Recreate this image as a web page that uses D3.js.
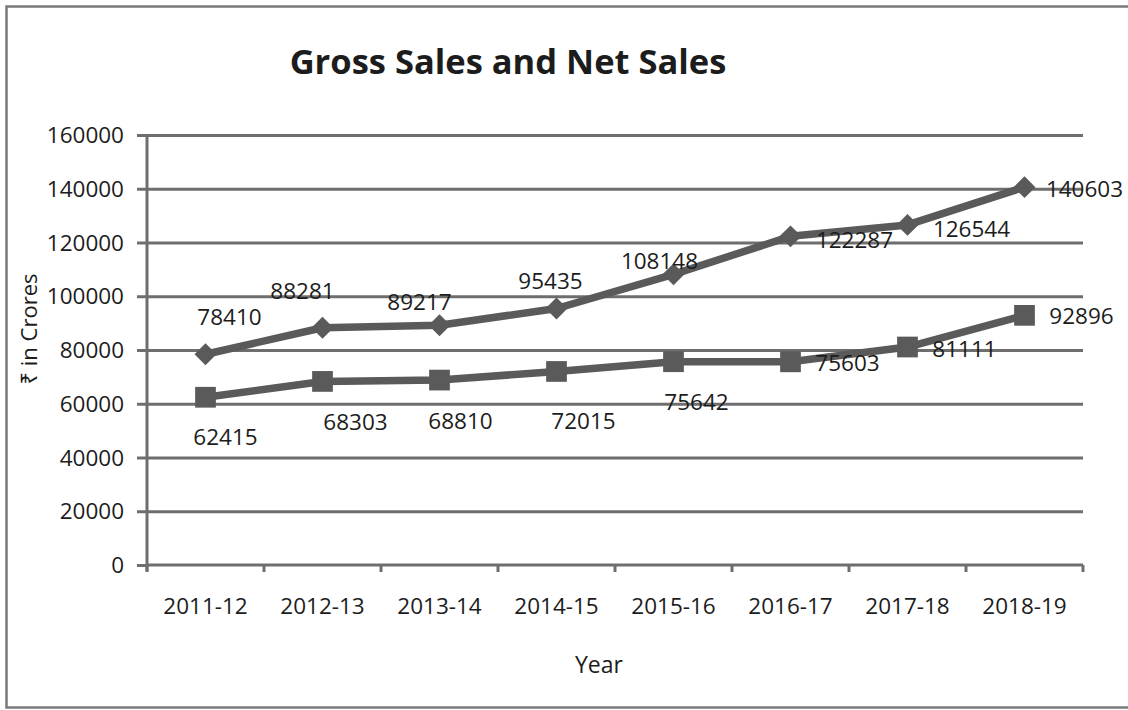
<!DOCTYPE html>
<html>
<head>
<meta charset="utf-8">
<script src="https://cdn.jsdelivr.net/npm/d3@7"></script>
<style>
  html, body { margin: 0; padding: 0; background: #fff; }
  svg { display: block; }
  text { font-family: "Open Sans", "Noto Sans", sans-serif; fill: #1c1c1c; }
</style>
</head>
<body>
<svg id="chart" width="1128" height="710"></svg>
<script>
// Fiscal years on the x axis
const years = ["2011-12", "2012-13", "2013-14", "2014-15", "2015-16", "2016-17", "2017-18", "2018-19"];
// ₹ in crores
const grossSales = [78410, 88281, 89217, 95435, 108148, 122287, 126544, 140603];
const netSales = [62415, 68303, 68810, 72015, 75642, 75603, 81111, 92896];
const yTicks = [0, 20000, 40000, 60000, 80000, 100000, 120000, 140000, 160000];

// Data label placement (offset of label centre from its marker, px)
const grossLabelDx = [24, -20, -20, -6, -14, 64, 64, 60];
const grossLabelDy = [-37, -37, -23, -28, -13, 4, 4, 2];
const netLabelDx = [20, 33, 21, 27, 23, 57, 57, 57];
const netLabelDy = [40, 40, 41, 49, 40, 1, 2, 1];

const svg = d3.select("#chart");
const W = 1128, H = 710;
const plot = { left: 147, right: 1083, top: 135, bottom: 565 };
const ink = "#5a5a5a";
const grid = "#6e6e6e";

// outer chart frame
svg.append("rect")
  .attr("x", 6.5).attr("y", 6.5)
  .attr("width", W + 10).attr("height", 701)
  .attr("fill", "#fff").attr("stroke", "#7a7a7a").attr("stroke-width", 2.5);

const x = d3.scaleBand().domain(years).range([plot.left, plot.right]).padding(0);
const y = d3.scaleLinear().domain([0, 160000]).range([plot.bottom, plot.top]);

// horizontal gridlines
const gridAxis = svg.append("g")
  .attr("transform", `translate(${plot.left},0)`)
  .call(d3.axisLeft(y).tickValues(yTicks.filter(v => v > 0)).tickSize(-(plot.right - plot.left)).tickFormat(""));
gridAxis.select(".domain").remove();
gridAxis.selectAll("line").attr("stroke", grid).attr("stroke-width", 3);

// y axis with tick labels
const yAxis = svg.append("g")
  .attr("transform", `translate(${plot.left},0)`)
  .call(d3.axisLeft(y).tickValues(yTicks).tickSize(10).tickPadding(13).tickFormat(d3.format("d")));
yAxis.select(".domain").attr("stroke", grid).attr("stroke-width", 3)
  .attr("d", `M0,${plot.top}V${plot.bottom + 6}`);
yAxis.selectAll("line").attr("stroke", grid).attr("stroke-width", 3);
yAxis.selectAll("text").style("font-size", "22.5px").attr("fill", "#1c1c1c").attr("dy", "0.34em");

// x axis: baseline, category boundary ticks, labels
const xAxis = svg.append("g")
  .attr("transform", `translate(0,${plot.bottom})`)
  .call(d3.axisBottom(x).tickSize(0).tickPadding(33));
xAxis.select(".domain").attr("stroke", grid).attr("stroke-width", 3)
  .attr("d", `M${plot.left},0H${plot.right}`);
xAxis.selectAll("text").style("font-size", "22.5px").attr("fill", "#1c1c1c");
const bounds = years.map(d => x(d)).concat([x.range()[1]]);
xAxis.selectAll(".bound").data(bounds).enter().append("line")
  .attr("class", "bound")
  .attr("x1", d => d).attr("x2", d => d)
  .attr("y1", 0).attr("y2", 7)
  .attr("stroke", grid).attr("stroke-width", 3);

const cx = d => x(d) + x.bandwidth() / 2;
const line = d3.line().x(d => cx(d.year)).y(d => y(d.value));

function series(values, symbolType, size, rotate, dxs, dys) {
  const pts = values.map((v, i) => ({ year: years[i], value: v, dx: dxs[i], dy: dys[i] }));
  const g = svg.append("g");
  g.append("path").datum(pts)
    .attr("d", line)
    .attr("fill", "none").attr("stroke", ink)
    .attr("stroke-width", 7.5).attr("stroke-linejoin", "round");
  g.selectAll("path.m").data(pts).enter().append("path")
    .attr("class", "m")
    .attr("d", d3.symbol().type(symbolType).size(size))
    .attr("transform", d => `translate(${cx(d.year)},${y(d.value)}) rotate(${rotate})`)
    .attr("fill", ink);
  g.selectAll("text").data(pts).enter().append("text")
    .attr("x", d => cx(d.year) + d.dx)
    .attr("y", d => y(d.value) + d.dy)
    .attr("text-anchor", "middle")
    .attr("dy", "0.36em")
    .style("font-size", "22.5px")
    .text(d => d.value);
}

series(grossSales, d3.symbolSquare, 240, 45, grossLabelDx, grossLabelDy);
series(netSales, d3.symbolSquare, 430, 0, netLabelDx, netLabelDy);

// titles
svg.append("text")
  .attr("x", 508).attr("y", 62).attr("dy", "0.36em")
  .attr("text-anchor", "middle")
  .style("font-size", "34.5px").style("font-weight", "bold")
  .text("Gross Sales and Net Sales");

svg.append("text")
  .attr("x", 599).attr("y", 665).attr("dy", "0.36em")
  .attr("text-anchor", "middle")
  .style("font-size", "23px")
  .text("Year");

svg.append("text")
  .attr("transform", "translate(29,329) rotate(-90)")
  .attr("dy", "0.36em")
  .attr("text-anchor", "middle")
  .style("font-size", "22px")
  .text("₹ in Crores");
</script>
</body>
</html>
